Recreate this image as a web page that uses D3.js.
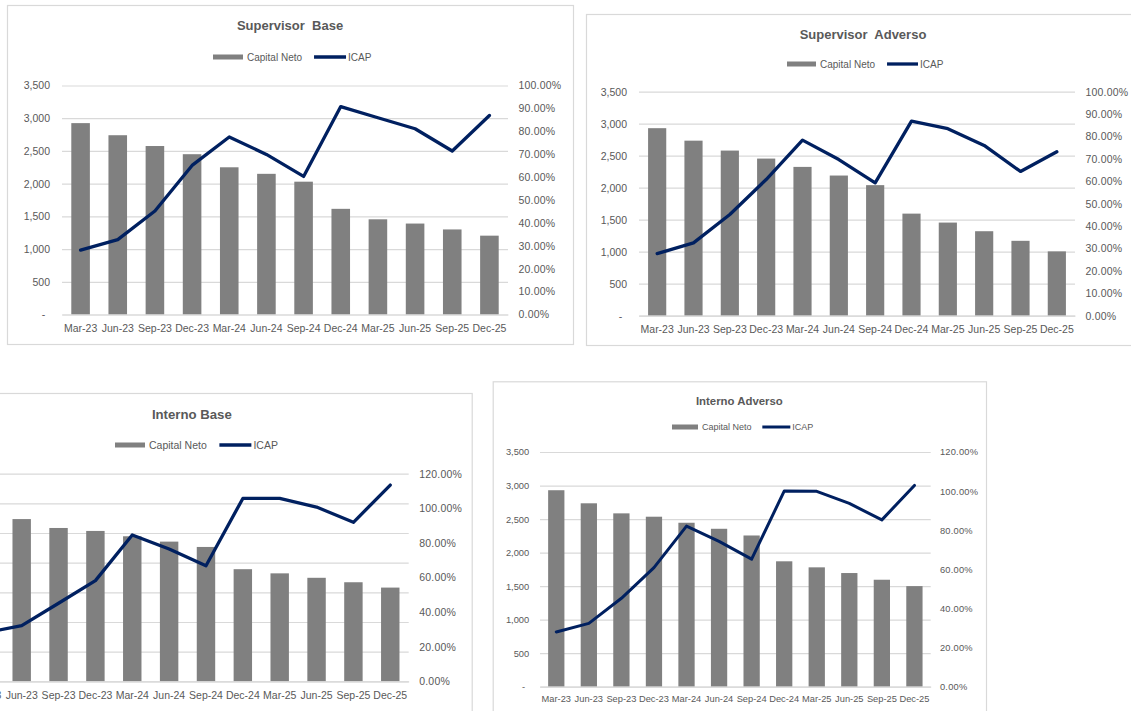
<!DOCTYPE html>
<html>
<head>
<meta charset="utf-8">
<script src="https://cdn.jsdelivr.net/npm/d3@7"></script>
<style>
  body { margin: 0; background: #fff; }
  svg { display: block; font-family: "Liberation Sans", Arial, sans-serif; }
  .tick text { fill: #595959; }
</style>
</head>
<body>
<div id="charts"></div>
<script>
// -- data
let categories = ["Mar-23", "Jun-23", "Sep-23", "Dec-23", "Mar-24", "Jun-24",
                  "Sep-24", "Dec-24", "Mar-25", "Jun-25", "Sep-25", "Dec-25"]

let supBaseCapital = [2925, 2740, 2575, 2450, 2250, 2150, 2030, 1615, 1455, 1390, 1300, 1205]
let supBaseIcap    = [0.281, 0.327, 0.452, 0.651, 0.775, 0.699, 0.603, 0.908, 0.859, 0.811, 0.714, 0.869]

let supAdvCapital  = [2930, 2735, 2580, 2455, 2325, 2190, 2040, 1595, 1455, 1320, 1170, 1005]
let supAdvIcap     = [0.277, 0.325, 0.452, 0.608, 0.784, 0.697, 0.593, 0.869, 0.835, 0.760, 0.644, 0.732]

let intBaseCapital = [2930, 2735, 2585, 2535, 2445, 2355, 2265, 1890, 1820, 1745, 1670, 1580]
let intBaseIcap    = [0.280, 0.322, 0.451, 0.582, 0.846, 0.765, 0.668, 1.057, 1.057, 1.007, 0.919, 1.134]

let intAdvCapital  = [2930, 2735, 2585, 2535, 2445, 2355, 2255, 1870, 1780, 1695, 1595, 1500]
let intAdvIcap     = [0.280, 0.324, 0.452, 0.609, 0.821, 0.743, 0.652, 1.000, 0.999, 0.937, 0.853, 1.029]

let leftTicks    = [0, 500, 1000, 1500, 2000, 2500, 3000, 3500]
let rightTicks10 = [0, 0.1, 0.2, 0.3, 0.4, 0.5, 0.6, 0.7, 0.8, 0.9, 1.0]
let rightTicks20 = [0, 0.2, 0.4, 0.6, 0.8, 1.0, 1.2]

let seriesNames = ["Capital Neto", "ICAP"]

// -- layout of the four panels (screen positions, not data)
let panels = [
  { title: "Supervisor  Base", capital: supBaseCapital, icap: supBaseIcap, rightTicks: rightTicks10,
    frame: [7, 5, 573, 344], plot: { l: 62, r: 508, t: 85.5, b: 314.5 },
    titleY: 29.5, legendY: 57, legendX: 213, fs: 10.5, titleFs: 13, legendFs: 10, sw: 30, lw: 3.3 },
  { title: "Supervisor  Adverso", capital: supAdvCapital, icap: supAdvIcap, rightTicks: rightTicks10,
    frame: [586, 14, 1140, 345], plot: { l: 639, r: 1075, t: 91.7, b: 315.7 },
    titleY: 39, legendY: 64, legendX: 787, fs: 10.5, titleFs: 13, legendFs: 10, sw: 29, lw: 3.3 },
  { title: "Interno Base", capital: intBaseCapital, icap: intBaseIcap, rightTicks: rightTicks20,
    frame: [-88, 393, 471.7, 760], plot: { l: -33.6, r: 408.7, t: 473.7, b: 681.3 },
    titleY: 418.5, legendY: 445, legendX: 115, fs: 10.5, titleFs: 13.2, legendFs: 10.5, sw: 30, lw: 3.3 },
  { title: "Interno Adverso", capital: intAdvCapital, icap: intAdvIcap, rightTicks: rightTicks20,
    frame: [492.7, 381.3, 986, 760], plot: { l: 540, r: 930.7, t: 452, b: 686.7 },
    titleY: 404.5, legendY: 427, legendX: 672, fs: 9.3, titleFs: 11.4, legendFs: 9, sw: 26, lw: 3 }
]

let textColor = "#595959"
let gridColor = "#D9D9D9"
let barColor = "#808080"
let lineColor = "#002060"

let svg = d3.select("#charts").append("svg")
            .attr("width", 1131)
            .attr("height", 711)

function drawPanel(p) {
  let g = svg.append("g")

  // -- chart frame
  g.append("rect")
    .attr("x", p.frame[0] + 0.5).attr("y", p.frame[1] + 0.5)
    .attr("width", p.frame[2] - p.frame[0]).attr("height", p.frame[3] - p.frame[1])
    .attr("fill", "#fff").attr("stroke", gridColor).attr("stroke-width", 1.2)

  let w = p.plot.r - p.plot.l

  let xScale = d3.scaleBand().domain(categories).range([p.plot.l, p.plot.r])
                 .paddingInner(0.5).paddingOuter(0.25)
  let yScale = d3.scaleLinear().domain([0, 3500]).range([p.plot.b, p.plot.t])
  let y2Scale = d3.scaleLinear().domain([0, d3.max(p.rightTicks)]).range([p.plot.b, p.plot.t])

  // -- gridlines
  g.append("g")
    .attr("transform", `translate(${p.plot.l}, 0)`)
    .call(d3.axisLeft(yScale).tickValues(leftTicks).tickSize(-w).tickFormat(""))
    .call(a => a.select(".domain").remove())
    .call(a => a.selectAll(".tick line").attr("stroke", gridColor).attr("stroke-width", 1.2))

  // -- left axis labels
  g.append("g")
    .attr("transform", `translate(${p.plot.l}, 0)`)
    .call(d3.axisLeft(yScale).tickValues(leftTicks).tickSize(0).tickPadding(p.fs + 1.5)
            .tickFormat(d => d === 0 ? "-" : d3.format(",")(d)))
    .call(a => a.select(".domain").remove())
    .call(a => a.selectAll("text").attr("font-size", p.fs).attr("fill", textColor))
    .call(a => a.selectAll(".tick").filter(d => d === 0).select("text").attr("dx", -p.fs * 0.45))

  // -- right axis labels
  g.append("g")
    .attr("transform", `translate(${p.plot.r}, 0)`)
    .call(d3.axisRight(y2Scale).tickValues(p.rightTicks).tickSize(0).tickPadding(p.fs)
            .tickFormat(d3.format(".2%")))
    .call(a => a.select(".domain").remove())
    .call(a => a.selectAll("text").attr("font-size", p.fs).attr("fill", textColor)
                .style("letter-spacing", "0.2px"))

  // -- bars
  g.append("g").selectAll("rect")
    .data(p.capital)
    .enter()
    .append("rect")
    .attr("x", (d, i) => xScale(categories[i]))
    .attr("y", d => yScale(d))
    .attr("width", xScale.bandwidth())
    .attr("height", d => p.plot.b - yScale(d))
    .style("fill", barColor)

  // -- x axis
  g.append("g")
    .attr("transform", `translate(0, ${p.plot.b})`)
    .call(d3.axisBottom(xScale).tickSize(0).tickPadding(p.fs - 0.5))
    .call(a => a.select(".domain").attr("stroke", gridColor).attr("stroke-width", 1.2))
    .call(a => a.selectAll("text").attr("font-size", p.fs).attr("fill", textColor))

  // -- ICAP line
  let line = d3.line()
               .x((d, i) => xScale(categories[i]) + xScale.bandwidth() / 2)
               .y(d => y2Scale(d))
  g.append("path")
    .datum(p.icap)
    .attr("d", line)
    .attr("fill", "none")
    .attr("stroke", lineColor)
    .attr("stroke-width", p.lw)
    .attr("stroke-linejoin", "round")
    .attr("stroke-linecap", "round")

  // -- title
  g.append("text")
    .attr("x", (p.frame[0] + p.frame[2]) / 2)
    .attr("y", p.titleY)
    .attr("text-anchor", "middle")
    .attr("font-size", p.titleFs)
    .attr("font-weight", "bold")
    .attr("fill", textColor)
    .style("white-space", "pre")
    .text(p.title)

  // -- legend
  let lg = g.append("g").attr("transform", `translate(${p.legendX}, ${p.legendY})`)
  lg.append("rect")
    .attr("x", 0).attr("y", -2.5)
    .attr("width", p.sw).attr("height", 5)
    .attr("fill", barColor)
  let t1 = lg.append("text")
    .attr("x", p.sw + 4).attr("dy", "0.35em")
    .attr("font-size", p.legendFs).attr("fill", textColor)
    .text(seriesNames[0])
  let lx = p.sw + 4 + t1.node().getComputedTextLength() + p.legendFs * 1.2
  lg.append("line")
    .attr("x1", lx).attr("x2", lx + p.sw + 2)
    .attr("stroke", lineColor).attr("stroke-width", p.lw)
  lg.append("text")
    .attr("x", lx + p.sw + 4).attr("dy", "0.35em")
    .attr("font-size", p.legendFs).attr("fill", textColor)
    .text(seriesNames[1])
}

panels.forEach(drawPanel)
</script>
</body>
</html>
